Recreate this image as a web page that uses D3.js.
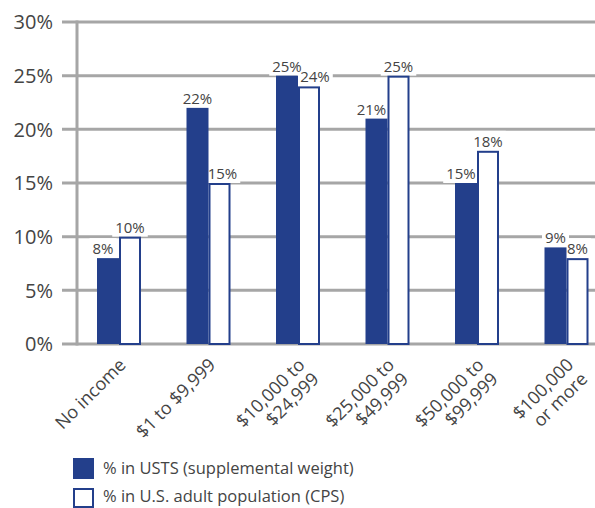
<!DOCTYPE html>
<html><head><meta charset="utf-8">
<script src="https://cdn.jsdelivr.net/npm/d3@7"></script>
<style>body{margin:0;background:#fff}svg{display:block}text{font-family:"Open Sans",sans-serif;fill:#444}</style>
</head><body><svg id="c" width="595" height="508"></svg>
<script>
const categories = [["No income"],["$1 to $9,999"],["$10,000 to","$24,999"],["$25,000 to","$49,999"],["$50,000 to","$99,999"],["$100,000","or more"]];
const seriesNames = ["% in USTS (supplemental weight)","% in U.S. adult population (CPS)"];
const usts = [8,22,25,21,15,9];
const cps = [10,15,24,25,18,8];
const yTicks = [0,5,10,15,20,25,30];

const blue = "#233f8b", grid = "#a6a6a6";
const svg = d3.select("#c");
const y = d3.scaleLinear().domain([0,30]).range([344,22]);
const x = d3.scaleBand().domain(d3.range(categories.length)).range([74.25,611.25]);
const xs = d3.scaleBand().domain([0,1]).range([0,44]);
const off = (x.bandwidth()-44)/2;

// gridlines
svg.append("g").selectAll("line").data(yTicks).join("line")
  .attr("x1",62).attr("x2",595).attr("y1",d=>y(d)).attr("y2",d=>y(d))
  .attr("stroke",grid).attr("stroke-width",3);
svg.append("line").attr("x1",77).attr("x2",77).attr("y1",y(30)-1.5).attr("y2",y(0)+1.5)
  .attr("stroke",grid).attr("stroke-width",3);
svg.append("g").selectAll("text").data(yTicks).join("text")
  .attr("x",53).attr("y",d=>y(d)).attr("dy","0.36em").attr("text-anchor","end")
  .style("font-size","20px").text(d=>d+"%");

const bgLayer = svg.append("g");
const g = svg.append("g");
const lab = svg.append("g");

// bars
usts.forEach((v,i)=>{
  const bx = x(i)+off;
  g.append("rect").attr("x",bx+xs(0)).attr("width",xs.bandwidth()).attr("y",y(v)).attr("height",y(0)-y(v)).attr("fill",blue);
  g.append("rect").attr("x",bx+xs(1)+1).attr("width",xs.bandwidth()-2).attr("y",y(cps[i])+1).attr("height",y(0)-y(cps[i])-1)
    .attr("fill","#fff").attr("stroke",blue).attr("stroke-width",2);
});
// labels with white background (behind bars)
usts.forEach((v,i)=>{
  const bx = x(i)+off;
  [[v,0],[cps[i],1]].forEach(([val,s])=>{
    const other = s===0?cps[i]:v;
    let cx = bx+xs(s)+xs.bandwidth()/2;
    if (val<other && other-val<=4 && !(s===1 && i===categories.length-1)) cx += (s===0?-5:6);
    if (val<other && other-val>4 && s===1) cx += 3;
    const t = lab.append("text").attr("x",cx).attr("y",y(val)-4).attr("text-anchor","middle")
      .style("font-size","15px").text(val+"%");
    const bb = t.node().getBBox();
    bgLayer.append("rect").attr("x",bb.x-3).attr("y",bb.y).attr("width",bb.width+6).attr("height",bb.height).attr("fill","#fff");
  });
});

// x labels
const xl = svg.append("g");
categories.forEach((c,i)=>{
  const cx = x(i)+x.bandwidth()/2;
  const t = xl.append("text").attr("transform",`translate(${cx+8},${366}) rotate(-45)`)
    .attr("text-anchor","end").style("font-size","18px");
  c.forEach((line,k)=>t.append("tspan").attr("x",0).attr("y",k*20).text(line));
});

// legend
const lg = svg.append("g");
lg.append("rect").attr("x",73).attr("y",458).attr("width",21).attr("height",21).attr("fill",blue);
lg.append("rect").attr("x",74).attr("y",489).attr("width",19).attr("height",18).attr("fill","#fff").attr("stroke",blue).attr("stroke-width",2);
lg.append("text").attr("x",103).attr("y",474).style("font-size","16.5px").text(seriesNames[0]);
lg.append("text").attr("x",103).attr("y",502).style("font-size","16.5px").text(seriesNames[1]);
</script></body></html>
